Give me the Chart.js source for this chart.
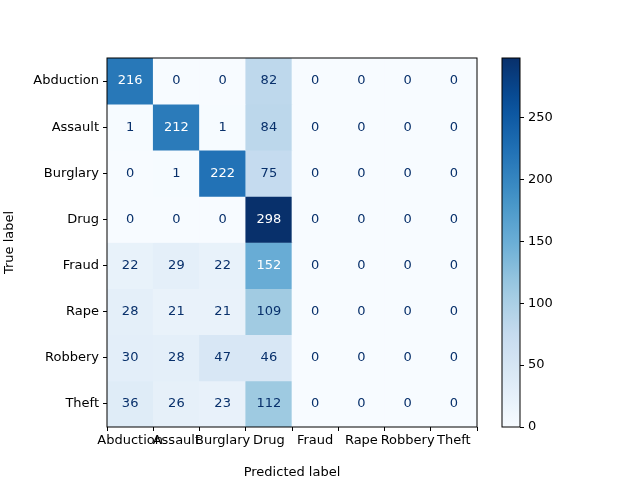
<!DOCTYPE html>
<html><head><meta charset="utf-8">
<script src="https://cdn.jsdelivr.net/npm/chart.js@4"></script>
<style>body{margin:0;background:#fff}canvas{position:absolute;left:0;top:0}</style>
</head><body>
<div style="position:absolute;left:0;top:0;width:640px;height:480px"><canvas id="cm"></canvas></div>
<div style="position:absolute;left:0;top:0;width:640px;height:480px"><canvas id="cb"></canvas></div>
<script>
const labels = ['Abduction', 'Assault', 'Burglary', 'Drug', 'Fraud', 'Rape', 'Robbery', 'Theft'];
const rowAbduction = [216, 0, 0, 82, 0, 0, 0, 0];
const rowAssault = [1, 212, 1, 84, 0, 0, 0, 0];
const rowBurglary = [0, 1, 222, 75, 0, 0, 0, 0];
const rowDrug = [0, 0, 0, 298, 0, 0, 0, 0];
const rowFraud = [22, 29, 22, 152, 0, 0, 0, 0];
const rowRape = [28, 21, 21, 109, 0, 0, 0, 0];
const rowRobbery = [30, 28, 47, 46, 0, 0, 0, 0];
const rowTheft = [36, 26, 23, 112, 0, 0, 0, 0];
const rows = [rowAbduction, rowAssault, rowBurglary, rowDrug, rowFraud, rowRape, rowRobbery, rowTheft];
const colorTicks = [0, 50, 100, 150, 200, 250];
const vmax = 298;

const stops = ['#f7fbff', '#deebf7', '#c6dbef', '#9ecae1', '#6baed6', '#4292c6', '#2171b5', '#08519c', '#08306b'];
const hex = (h) => [1, 3, 5].map((i) => parseInt(h.substr(i, 2), 16));
const blues = (t) => {
  t = Math.max(0, Math.min(1, t)) * (stops.length - 1);
  const i = Math.min(Math.floor(t), stops.length - 2), f = t - i;
  const a = hex(stops[i]), b = hex(stops[i + 1]);
  return `rgb(${a.map((v, k) => Math.round(v + (b[k] - v) * f)).join(',')})`;
};
const font = {family: 'DejaVu Sans', size: 13};
Chart.defaults.color = '#000';

const cellText = {
  id: 'cellText',
  afterDatasetsDraw(chart) {
    const {ctx, scales: {x, y}, chartArea: a} = chart;
    ctx.save();
    ctx.font = '13px DejaVu Sans';
    ctx.textAlign = 'center';
    ctx.textBaseline = 'middle';
    rows.forEach((row, i) => row.forEach((v, j) => {
      ctx.fillStyle = v > vmax / 2 ? '#fff' : '#08306b';
      ctx.fillText(String(v), x.getPixelForValue(j), y.getPixelForValue(i));
    }));
    ctx.strokeStyle = '#000';
    ctx.lineWidth = 1;
    ctx.strokeRect(a.left, a.top, a.right - a.left, a.bottom - a.top);
    ctx.restore();
  }
};

new Chart(document.getElementById('cm'), {
  type: 'bar',
  data: {
    labels: labels,
    datasets: rows.map((row, i) => ({
      data: row.map(() => [i - 0.5, i + 0.5]),
      backgroundColor: row.map((v) => blues(v / vmax)),
      grouped: false,
      barPercentage: 1,
      categoryPercentage: 1,
    })),
  },
  options: {
    responsive: true,
    maintainAspectRatio: false,
    animation: false,
    layout: {padding: {top: 58, right: 163}},
    scales: {
      x: {
        grid: {display: true, drawOnChartArea: false, color: '#000', tickLength: 4},
        border: {display: false},
        ticks: {font: font, maxRotation: 0, autoSkip: false, padding: 2},
        title: {display: true, text: 'Predicted label', font: font, padding: 0},
        afterFit: (s) => { s.height = 53; },
      },
      y: {
        min: -0.5, max: 7.5, reverse: true,
        grid: {display: true, drawOnChartArea: false, color: '#000', tickLength: 4},
        border: {display: false},
        afterBuildTicks: (s) => { s.ticks = labels.map((l, i) => ({value: i})); },
        ticks: {font: font, callback: (v) => labels[v], padding: 4},
        title: {display: true, text: 'True label', font: font, padding: 2},
        afterFit: (s) => { s.width = 107; },
      },
    },
    plugins: {legend: {display: false}, tooltip: {enabled: false}},
  },
  plugins: [cellText],
});

const frame = {
  id: 'frame',
  afterDatasetsDraw(chart) {
    const {ctx, chartArea: a} = chart;
    ctx.save();
    ctx.strokeStyle = '#000';
    ctx.strokeRect(a.left, a.top, a.right - a.left, a.bottom - a.top);
    ctx.restore();
  }
};

new Chart(document.getElementById('cb'), {
  type: 'bar',
  data: {
    labels: [''],
    datasets: [{
      data: [[0, vmax]],
      barPercentage: 1,
      categoryPercentage: 1,
      backgroundColor: (c) => {
        const {ctx, chartArea: a} = c.chart;
        if (!a) return stops[0];
        const g = ctx.createLinearGradient(0, a.bottom, 0, a.top);
        for (let k = 0; k <= 20; k++) g.addColorStop(k / 20, blues(k / 20));
        return g;
      },
    }],
  },
  options: {
    responsive: true,
    maintainAspectRatio: false,
    animation: false,
    layout: {padding: {top: 58, left: 502, right: 80, bottom: 53}},
    scales: {
      x: {display: false},
      y: {
        position: 'right', min: 0, max: vmax,
        grid: {display: true, drawOnChartArea: false, color: '#000', tickLength: 4},
        border: {display: false},
        afterBuildTicks: (s) => { s.ticks = colorTicks.map((v) => ({value: v})); },
        ticks: {font: font, padding: 4},
        afterFit: (s) => { s.width = 40; },
      },
    },
    plugins: {legend: {display: false}, tooltip: {enabled: false}},
  },
  plugins: [frame],
});
</script>
</body></html>
